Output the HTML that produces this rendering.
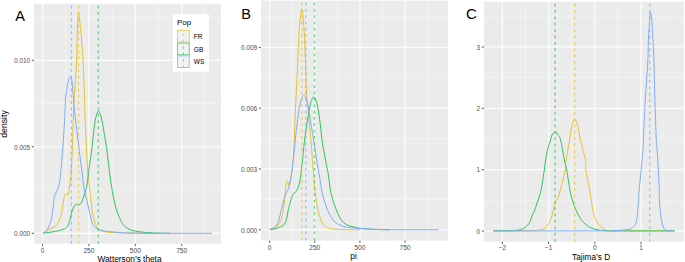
<!DOCTYPE html>
<html><head><meta charset="utf-8"><style>
html,body{margin:0;padding:0;background:#fff;overflow:hidden}
svg{display:block;font-family:"Liberation Sans",sans-serif}
</style></head><body>
<svg width="685" height="262" viewBox="0 0 685 262">
<rect width="685" height="262" fill="#fff"/>
<rect x="34.00" y="3.70" width="187.00" height="240.10" fill="#EBEBEB"/>
<line x1="65.78" y1="3.70" x2="65.78" y2="243.80" stroke="#fff" stroke-width="0.5" stroke-opacity="0.8"/>
<line x1="112.15" y1="3.70" x2="112.15" y2="243.80" stroke="#fff" stroke-width="0.5" stroke-opacity="0.8"/>
<line x1="158.52" y1="3.70" x2="158.52" y2="243.80" stroke="#fff" stroke-width="0.5" stroke-opacity="0.8"/>
<line x1="204.89" y1="3.70" x2="204.89" y2="243.80" stroke="#fff" stroke-width="0.5" stroke-opacity="0.8"/>
<line x1="34.00" y1="190.05" x2="221.00" y2="190.05" stroke="#fff" stroke-width="0.5" stroke-opacity="0.8"/>
<line x1="34.00" y1="103.55" x2="221.00" y2="103.55" stroke="#fff" stroke-width="0.5" stroke-opacity="0.8"/>
<line x1="34.00" y1="17.05" x2="221.00" y2="17.05" stroke="#fff" stroke-width="0.5" stroke-opacity="0.8"/>
<line x1="42.60" y1="3.70" x2="42.60" y2="243.80" stroke="#fff" stroke-width="1.25" stroke-opacity="0.85"/>
<line x1="88.97" y1="3.70" x2="88.97" y2="243.80" stroke="#fff" stroke-width="1.25" stroke-opacity="0.85"/>
<line x1="135.34" y1="3.70" x2="135.34" y2="243.80" stroke="#fff" stroke-width="1.25" stroke-opacity="0.85"/>
<line x1="181.70" y1="3.70" x2="181.70" y2="243.80" stroke="#fff" stroke-width="1.25" stroke-opacity="0.85"/>
<line x1="34.00" y1="233.30" x2="221.00" y2="233.30" stroke="#fff" stroke-width="1.25" stroke-opacity="0.85"/>
<line x1="34.00" y1="146.80" x2="221.00" y2="146.80" stroke="#fff" stroke-width="1.25" stroke-opacity="0.85"/>
<line x1="34.00" y1="60.30" x2="221.00" y2="60.30" stroke="#fff" stroke-width="1.25" stroke-opacity="0.85"/>
<path d="M43.00,233.20 C43.50,232.88 44.92,231.95 46.00,231.30 C47.08,230.65 48.03,230.07 49.50,229.30 C50.97,228.53 53.47,227.58 54.80,226.70 C56.13,225.82 56.75,225.12 57.50,224.00 C58.25,222.88 58.68,221.58 59.30,220.00 C59.92,218.42 60.60,216.83 61.20,214.50 C61.80,212.17 62.47,208.62 62.90,206.00 C63.33,203.38 63.40,200.73 63.80,198.80 C64.20,196.87 64.77,195.23 65.30,194.40 C65.83,193.57 66.50,193.73 67.00,193.80 C67.50,193.87 67.98,195.27 68.30,194.80 C68.62,194.33 68.68,192.47 68.90,191.00 C69.12,189.53 69.32,187.83 69.60,186.00 C69.88,184.17 70.27,183.65 70.60,180.00 C70.93,176.35 71.32,169.10 71.60,164.10 C71.88,159.10 72.07,156.52 72.30,150.00 C72.53,143.48 72.77,131.67 73.00,125.00 C73.23,118.33 73.43,115.83 73.70,110.00 C73.97,104.17 74.23,96.00 74.60,90.00 C74.97,84.00 75.57,79.00 75.90,74.00 C76.23,69.00 76.38,65.90 76.60,60.00 C76.82,54.10 77.02,45.02 77.20,38.60 C77.38,32.18 77.48,25.88 77.70,21.50 C77.92,17.12 78.27,13.27 78.50,12.30 C78.73,11.33 78.75,12.90 79.10,15.70 C79.45,18.50 80.13,24.32 80.60,29.10 C81.07,33.88 81.52,39.25 81.90,44.40 C82.28,49.55 82.57,54.07 82.90,60.00 C83.23,65.93 83.62,73.33 83.90,80.00 C84.18,86.67 84.42,94.00 84.60,100.00 C84.78,106.00 84.72,108.50 85.00,116.00 C85.28,123.50 85.93,137.00 86.30,145.00 C86.67,153.00 86.85,158.50 87.20,164.00 C87.55,169.50 88.03,174.33 88.40,178.00 C88.77,181.67 89.02,182.50 89.40,186.00 C89.78,189.50 90.27,195.10 90.70,199.00 C91.13,202.90 91.45,205.90 92.00,209.40 C92.55,212.90 93.33,217.32 94.00,220.00 C94.67,222.68 95.32,223.98 96.00,225.50 C96.68,227.02 97.10,228.18 98.10,229.10 C99.10,230.02 100.02,230.45 102.00,231.00 C103.98,231.55 106.17,232.07 110.00,232.40 C113.83,232.73 118.33,232.86 125.00,233.00 C131.67,233.14 145.83,233.21 150.00,233.25" fill="none" stroke="#E8C22F" stroke-width="1.00" stroke-opacity="1.00" stroke-linejoin="round"/>
<path d="M43.00,233.20 C44.45,233.00 48.97,232.45 51.70,232.00 C54.43,231.55 57.10,231.13 59.40,230.50 C61.70,229.87 64.02,229.15 65.50,228.20 C66.98,227.25 67.57,226.17 68.30,224.80 C69.03,223.43 69.32,222.13 69.90,220.00 C70.48,217.87 71.15,214.20 71.80,212.00 C72.45,209.80 73.03,208.10 73.80,206.80 C74.57,205.50 75.65,204.48 76.40,204.20 C77.15,203.92 77.65,205.10 78.30,205.10 C78.95,205.10 79.65,204.90 80.30,204.20 C80.95,203.50 81.55,202.42 82.20,200.90 C82.85,199.38 83.65,196.83 84.20,195.10 C84.75,193.37 85.07,192.02 85.50,190.50 C85.93,188.98 86.20,189.77 86.80,186.00 C87.40,182.23 88.28,173.90 89.10,167.90 C89.92,161.90 91.07,154.65 91.70,150.00 C92.33,145.35 92.58,142.93 92.90,140.00 C93.22,137.07 93.17,135.88 93.60,132.40 C94.03,128.92 94.70,122.65 95.50,119.10 C96.30,115.55 97.45,111.42 98.40,111.10 C99.35,110.78 100.25,113.65 101.20,117.20 C102.15,120.75 103.37,128.27 104.10,132.40 C104.83,136.53 105.13,139.07 105.60,142.00 C106.07,144.93 106.38,146.07 106.90,150.00 C107.42,153.93 107.93,159.57 108.70,165.60 C109.47,171.63 110.35,179.32 111.50,186.20 C112.65,193.08 114.05,201.17 115.60,206.90 C117.15,212.63 119.27,217.37 120.80,220.60 C122.33,223.83 123.27,224.80 124.80,226.30 C126.33,227.80 127.97,228.75 130.00,229.60 C132.03,230.45 134.12,230.90 137.00,231.40 C139.88,231.90 143.80,232.32 147.30,232.60 C150.80,232.88 154.22,232.98 158.00,233.10 C161.78,233.22 168.00,233.27 170.00,233.30" fill="none" stroke="#2FC45C" stroke-width="1.00" stroke-opacity="1.00" stroke-linejoin="round"/>
<path d="M43.00,233.20 C43.33,232.97 44.30,232.37 45.00,231.80 C45.70,231.23 46.33,231.28 47.20,229.80 C48.07,228.32 49.48,224.70 50.20,222.90 C50.92,221.10 51.12,220.82 51.50,219.00 C51.88,217.18 52.18,214.17 52.50,212.00 C52.82,209.83 53.20,207.70 53.40,206.00 C53.60,204.30 53.58,203.15 53.70,201.80 C53.82,200.45 53.90,199.05 54.10,197.90 C54.30,196.75 54.43,196.07 54.90,194.90 C55.37,193.73 56.32,192.23 56.90,190.90 C57.48,189.57 57.90,188.72 58.40,186.90 C58.90,185.08 59.38,183.80 59.90,180.00 C60.42,176.20 60.98,169.93 61.50,164.10 C62.02,158.27 62.53,151.52 63.00,145.00 C63.47,138.48 63.88,132.50 64.30,125.00 C64.72,117.50 65.10,105.93 65.50,100.00 C65.90,94.07 66.18,92.77 66.70,89.40 C67.22,86.03 67.97,81.97 68.60,79.80 C69.23,77.63 69.93,76.08 70.50,76.40 C71.07,76.72 71.58,78.90 72.00,81.70 C72.42,84.50 72.60,88.48 73.00,93.20 C73.40,97.92 73.88,104.70 74.40,110.00 C74.92,115.30 75.40,119.17 76.10,125.00 C76.80,130.83 77.95,139.75 78.60,145.00 C79.25,150.25 79.52,152.68 80.00,156.50 C80.48,160.32 81.03,164.32 81.50,167.90 C81.97,171.48 82.45,174.98 82.80,178.00 C83.15,181.02 83.15,183.15 83.60,186.00 C84.05,188.85 84.87,192.28 85.50,195.10 C86.13,197.92 86.75,200.18 87.40,202.90 C88.05,205.62 88.75,208.55 89.40,211.40 C90.05,214.25 90.63,217.63 91.30,220.00 C91.97,222.37 92.27,224.08 93.40,225.60 C94.53,227.12 96.20,228.20 98.10,229.10 C100.00,230.00 101.45,230.45 104.80,231.00 C108.15,231.55 114.00,232.07 118.20,232.40 C122.40,232.73 124.70,232.86 130.00,233.00 C135.30,233.14 143.33,233.20 150.00,233.25 C156.67,233.30 163.33,233.29 170.00,233.30 C176.67,233.31 183.03,233.30 190.00,233.30 C196.97,233.30 208.17,233.30 211.80,233.30" fill="none" stroke="#7DACFB" stroke-width="1.00" stroke-opacity="1.00" stroke-linejoin="round"/>
<line x1="71.40" y1="243.80" x2="71.40" y2="3.70" stroke="#7DACFB" stroke-width="1.35" stroke-opacity="0.70" stroke-dasharray="2.75 3.61"/>
<line x1="78.50" y1="243.80" x2="78.50" y2="3.70" stroke="#E8C22F" stroke-width="1.35" stroke-opacity="0.70" stroke-dasharray="2.75 3.61"/>
<line x1="98.30" y1="243.80" x2="98.30" y2="3.70" stroke="#2FC45C" stroke-width="1.35" stroke-opacity="0.70" stroke-dasharray="2.75 3.61"/>
<rect x="172.8" y="14.0" width="36.1" height="57.7" fill="#fff"/>
<text x="177.0" y="24.5" font-size="8.0" fill="#000">Pop</text>
<rect x="177.0" y="29.80" width="12.75" height="12.75" fill="#F2F2F2"/>
<rect x="177.5" y="30.30" width="11.75" height="11.75" fill="none" stroke="#E8C22F" stroke-width="0.9" stroke-opacity="0.8"/>
<line x1="183.37" y1="42.55" x2="183.37" y2="29.80" stroke="#E8C22F" stroke-width="1.1" stroke-opacity="0.65" stroke-dasharray="2.75 3.61"/>
<text x="193.8" y="36.40" font-size="6.6" fill="#000" dominant-baseline="central">FR</text>
<rect x="177.0" y="42.55" width="12.75" height="12.75" fill="#F2F2F2"/>
<rect x="177.5" y="43.05" width="11.75" height="11.75" fill="none" stroke="#2FC45C" stroke-width="0.9" stroke-opacity="0.8"/>
<line x1="183.37" y1="55.30" x2="183.37" y2="42.55" stroke="#2FC45C" stroke-width="1.1" stroke-opacity="0.65" stroke-dasharray="2.75 3.61"/>
<text x="193.8" y="49.15" font-size="6.6" fill="#000" dominant-baseline="central">GB</text>
<rect x="177.0" y="55.30" width="12.75" height="12.75" fill="#F2F2F2"/>
<rect x="177.5" y="55.80" width="11.75" height="11.75" fill="none" stroke="#7DACFB" stroke-width="0.9" stroke-opacity="0.8"/>
<line x1="183.37" y1="68.05" x2="183.37" y2="55.30" stroke="#7DACFB" stroke-width="1.1" stroke-opacity="0.65" stroke-dasharray="2.75 3.61"/>
<text x="193.8" y="61.90" font-size="6.6" fill="#000" dominant-baseline="central">WS</text>
<line x1="31.80" y1="233.30" x2="34.00" y2="233.30" stroke="#333333" stroke-width="0.8"/>
<text x="30.10" y="233.60" font-size="6.40" fill="#4D4D4D" text-anchor="end" dominant-baseline="central">0.000</text>
<line x1="31.80" y1="146.80" x2="34.00" y2="146.80" stroke="#333333" stroke-width="0.8"/>
<text x="30.10" y="147.10" font-size="6.40" fill="#4D4D4D" text-anchor="end" dominant-baseline="central">0.005</text>
<line x1="31.80" y1="60.30" x2="34.00" y2="60.30" stroke="#333333" stroke-width="0.8"/>
<text x="30.10" y="60.60" font-size="6.40" fill="#4D4D4D" text-anchor="end" dominant-baseline="central">0.010</text>
<line x1="42.60" y1="243.80" x2="42.60" y2="246.00" stroke="#333333" stroke-width="0.8"/>
<text x="42.60" y="252.60" font-size="6.60" fill="#4D4D4D" text-anchor="middle">0</text>
<line x1="88.97" y1="243.80" x2="88.97" y2="246.00" stroke="#333333" stroke-width="0.8"/>
<text x="88.97" y="252.60" font-size="6.60" fill="#4D4D4D" text-anchor="middle">250</text>
<line x1="135.34" y1="243.80" x2="135.34" y2="246.00" stroke="#333333" stroke-width="0.8"/>
<text x="135.34" y="252.60" font-size="6.60" fill="#4D4D4D" text-anchor="middle">500</text>
<line x1="181.70" y1="243.80" x2="181.70" y2="246.00" stroke="#333333" stroke-width="0.8"/>
<text x="181.70" y="252.60" font-size="6.60" fill="#4D4D4D" text-anchor="middle">750</text>
<text x="129.5" y="262.1" font-size="8.3" fill="#000" text-anchor="middle">Watterson&#8217;s theta</text>
<text transform="translate(6.5,124) rotate(-90)" font-size="8.7" fill="#000" text-anchor="middle">density</text>
<text x="15.3" y="20.6" font-size="14.5" fill="#000">A</text>
<rect x="261.00" y="0.60" width="186.90" height="240.00" fill="#EBEBEB"/>
<line x1="292.18" y1="0.60" x2="292.18" y2="240.60" stroke="#fff" stroke-width="0.5" stroke-opacity="0.8"/>
<line x1="337.33" y1="0.60" x2="337.33" y2="240.60" stroke="#fff" stroke-width="0.5" stroke-opacity="0.8"/>
<line x1="382.48" y1="0.60" x2="382.48" y2="240.60" stroke="#fff" stroke-width="0.5" stroke-opacity="0.8"/>
<line x1="427.62" y1="0.60" x2="427.62" y2="240.60" stroke="#fff" stroke-width="0.5" stroke-opacity="0.8"/>
<line x1="261.00" y1="199.36" x2="447.90" y2="199.36" stroke="#fff" stroke-width="0.5" stroke-opacity="0.8"/>
<line x1="261.00" y1="138.58" x2="447.90" y2="138.58" stroke="#fff" stroke-width="0.5" stroke-opacity="0.8"/>
<line x1="261.00" y1="77.79" x2="447.90" y2="77.79" stroke="#fff" stroke-width="0.5" stroke-opacity="0.8"/>
<line x1="261.00" y1="17.01" x2="447.90" y2="17.01" stroke="#fff" stroke-width="0.5" stroke-opacity="0.8"/>
<line x1="269.60" y1="0.60" x2="269.60" y2="240.60" stroke="#fff" stroke-width="1.25" stroke-opacity="0.85"/>
<line x1="314.75" y1="0.60" x2="314.75" y2="240.60" stroke="#fff" stroke-width="1.25" stroke-opacity="0.85"/>
<line x1="359.90" y1="0.60" x2="359.90" y2="240.60" stroke="#fff" stroke-width="1.25" stroke-opacity="0.85"/>
<line x1="405.05" y1="0.60" x2="405.05" y2="240.60" stroke="#fff" stroke-width="1.25" stroke-opacity="0.85"/>
<line x1="261.00" y1="229.75" x2="447.90" y2="229.75" stroke="#fff" stroke-width="1.25" stroke-opacity="0.85"/>
<line x1="261.00" y1="168.97" x2="447.90" y2="168.97" stroke="#fff" stroke-width="1.25" stroke-opacity="0.85"/>
<line x1="261.00" y1="108.18" x2="447.90" y2="108.18" stroke="#fff" stroke-width="1.25" stroke-opacity="0.85"/>
<line x1="261.00" y1="47.40" x2="447.90" y2="47.40" stroke="#fff" stroke-width="1.25" stroke-opacity="0.85"/>
<path d="M269.80,229.50 C270.33,229.32 271.68,229.03 273.00,228.40 C274.32,227.77 276.35,227.15 277.70,225.70 C279.05,224.25 280.20,222.27 281.10,219.70 C282.00,217.13 282.55,213.15 283.10,210.30 C283.65,207.45 284.10,204.88 284.40,202.60 C284.70,200.32 284.73,198.60 284.90,196.60 C285.07,194.60 285.22,192.53 285.40,190.60 C285.58,188.67 285.72,186.62 286.00,185.00 C286.28,183.38 286.77,181.35 287.10,180.90 C287.43,180.45 287.75,181.60 288.00,182.30 C288.25,183.00 288.32,185.05 288.60,185.10 C288.88,185.15 289.35,183.77 289.70,182.60 C290.05,181.43 290.25,180.60 290.70,178.10 C291.15,175.60 291.97,171.02 292.40,167.60 C292.83,164.18 292.98,162.27 293.30,157.60 C293.62,152.93 294.02,145.93 294.30,139.60 C294.58,133.27 294.68,127.10 295.00,119.60 C295.32,112.10 295.62,107.10 296.20,94.60 C296.78,82.10 297.93,56.27 298.50,44.60 C299.07,32.93 299.03,30.52 299.60,24.60 C300.17,18.68 301.28,9.93 301.90,9.10 C302.52,8.27 302.82,13.68 303.30,19.60 C303.78,25.52 304.23,32.10 304.80,44.60 C305.37,57.10 306.08,82.93 306.70,94.60 C307.32,106.27 307.80,107.03 308.50,114.60 C309.20,122.17 310.18,131.60 310.90,140.00 C311.62,148.40 312.30,158.67 312.80,165.00 C313.30,171.33 313.53,173.82 313.90,178.00 C314.27,182.18 314.62,186.45 315.00,190.10 C315.38,193.75 315.72,196.55 316.20,199.90 C316.68,203.25 317.27,207.32 317.90,210.20 C318.53,213.08 319.12,214.82 320.00,217.20 C320.88,219.58 321.87,222.70 323.20,224.50 C324.53,226.30 325.87,227.20 328.00,228.00 C330.13,228.80 333.07,229.02 336.00,229.30 C338.93,229.58 341.60,229.62 345.60,229.70 C349.60,229.77 357.60,229.74 360.00,229.75" fill="none" stroke="#E8C22F" stroke-width="1.00" stroke-opacity="1.00" stroke-linejoin="round"/>
<path d="M269.80,229.50 C270.67,229.40 273.35,229.32 275.00,228.90 C276.65,228.48 278.25,227.65 279.70,227.00 C281.15,226.35 282.58,226.22 283.70,225.00 C284.82,223.78 285.63,222.27 286.40,219.70 C287.17,217.13 287.65,212.45 288.30,209.60 C288.95,206.75 289.78,204.48 290.30,202.60 C290.82,200.72 290.88,199.80 291.40,198.30 C291.92,196.80 292.73,194.60 293.40,193.60 C294.07,192.60 294.63,193.30 295.40,192.30 C296.17,191.30 297.20,189.75 298.00,187.60 C298.80,185.45 299.58,182.80 300.20,179.40 C300.82,176.00 301.30,170.50 301.70,167.20 C302.10,163.90 302.12,164.13 302.60,159.60 C303.08,155.07 303.83,146.27 304.60,140.00 C305.37,133.73 306.30,127.67 307.20,122.00 C308.10,116.33 309.23,109.75 310.00,106.00 C310.77,102.25 311.17,101.02 311.80,99.50 C312.43,97.98 313.07,96.73 313.80,96.90 C314.53,97.07 315.40,97.98 316.20,100.50 C317.00,103.02 317.88,107.75 318.60,112.00 C319.32,116.25 319.93,121.33 320.50,126.00 C321.07,130.67 321.32,135.17 322.00,140.00 C322.68,144.83 323.87,150.83 324.60,155.00 C325.33,159.17 325.77,161.68 326.40,165.00 C327.03,168.32 327.73,170.73 328.40,174.90 C329.07,179.07 329.67,185.88 330.40,190.00 C331.13,194.12 331.87,196.40 332.80,199.60 C333.73,202.80 334.80,206.13 336.00,209.20 C337.20,212.27 338.67,215.72 340.00,218.00 C341.33,220.28 342.53,221.63 344.00,222.90 C345.47,224.17 346.92,224.87 348.80,225.60 C350.68,226.33 353.15,226.82 355.30,227.30 C357.45,227.78 359.25,228.17 361.70,228.50 C364.15,228.83 366.95,229.12 370.00,229.30 C373.05,229.48 376.67,229.53 380.00,229.60 C383.33,229.67 388.33,229.72 390.00,229.75" fill="none" stroke="#2FC45C" stroke-width="1.00" stroke-opacity="1.00" stroke-linejoin="round"/>
<path d="M269.80,229.50 C270.78,228.98 274.17,228.03 275.70,226.40 C277.23,224.77 278.10,222.38 279.00,219.70 C279.90,217.02 280.38,213.15 281.10,210.30 C281.82,207.45 282.70,204.93 283.30,202.60 C283.90,200.27 284.13,198.02 284.70,196.30 C285.27,194.58 286.03,193.75 286.70,192.30 C287.37,190.85 288.03,189.72 288.70,187.60 C289.37,185.48 290.08,182.93 290.70,179.60 C291.32,176.27 291.97,170.93 292.40,167.60 C292.83,164.27 292.97,162.60 293.30,159.60 C293.63,156.60 293.98,153.77 294.40,149.60 C294.82,145.43 295.25,139.60 295.80,134.60 C296.35,129.60 297.10,124.10 297.70,119.60 C298.30,115.10 298.80,111.02 299.40,107.60 C300.00,104.18 300.58,101.15 301.30,99.10 C302.02,97.05 302.88,95.38 303.70,95.30 C304.52,95.22 305.38,96.38 306.20,98.60 C307.02,100.82 307.87,104.77 308.60,108.60 C309.33,112.43 309.97,117.60 310.60,121.60 C311.23,125.60 311.90,129.53 312.40,132.60 C312.90,135.67 313.13,137.10 313.60,140.00 C314.07,142.90 314.70,146.67 315.20,150.00 C315.70,153.33 316.17,157.17 316.60,160.00 C317.03,162.83 317.35,164.50 317.80,167.00 C318.25,169.50 318.67,171.17 319.30,175.00 C319.93,178.83 320.82,185.90 321.60,190.00 C322.38,194.10 323.07,196.40 324.00,199.60 C324.93,202.80 326.00,206.27 327.20,209.20 C328.40,212.13 329.73,214.92 331.20,217.20 C332.67,219.48 334.13,221.42 336.00,222.90 C337.87,224.38 340.00,225.30 342.40,226.10 C344.80,226.90 347.47,227.30 350.40,227.70 C353.33,228.10 356.73,228.27 360.00,228.50 C363.27,228.73 366.67,228.93 370.00,229.10 C373.33,229.27 376.67,229.39 380.00,229.50 C383.33,229.61 385.00,229.71 390.00,229.75 C395.00,229.79 401.85,229.75 410.00,229.75 C418.15,229.75 434.08,229.75 438.90,229.75" fill="none" stroke="#7DACFB" stroke-width="1.00" stroke-opacity="1.00" stroke-linejoin="round"/>
<line x1="301.90" y1="240.60" x2="301.90" y2="0.60" stroke="#E8C22F" stroke-width="1.35" stroke-opacity="0.70" stroke-dasharray="2.75 3.61"/>
<line x1="305.80" y1="240.60" x2="305.80" y2="0.60" stroke="#7DACFB" stroke-width="1.35" stroke-opacity="0.70" stroke-dasharray="2.75 3.61"/>
<line x1="314.50" y1="240.60" x2="314.50" y2="0.60" stroke="#2FC45C" stroke-width="1.35" stroke-opacity="0.70" stroke-dasharray="2.75 3.61"/>
<line x1="258.80" y1="229.75" x2="261.00" y2="229.75" stroke="#333333" stroke-width="0.8"/>
<text x="257.10" y="230.05" font-size="6.40" fill="#4D4D4D" text-anchor="end" dominant-baseline="central">0.000</text>
<line x1="258.80" y1="168.97" x2="261.00" y2="168.97" stroke="#333333" stroke-width="0.8"/>
<text x="257.10" y="169.27" font-size="6.40" fill="#4D4D4D" text-anchor="end" dominant-baseline="central">0.003</text>
<line x1="258.80" y1="108.18" x2="261.00" y2="108.18" stroke="#333333" stroke-width="0.8"/>
<text x="257.10" y="108.48" font-size="6.40" fill="#4D4D4D" text-anchor="end" dominant-baseline="central">0.006</text>
<line x1="258.80" y1="47.40" x2="261.00" y2="47.40" stroke="#333333" stroke-width="0.8"/>
<text x="257.10" y="47.70" font-size="6.40" fill="#4D4D4D" text-anchor="end" dominant-baseline="central">0.009</text>
<line x1="269.60" y1="240.60" x2="269.60" y2="242.80" stroke="#333333" stroke-width="0.8"/>
<text x="269.60" y="249.80" font-size="6.60" fill="#4D4D4D" text-anchor="middle">0</text>
<line x1="314.75" y1="240.60" x2="314.75" y2="242.80" stroke="#333333" stroke-width="0.8"/>
<text x="314.75" y="249.80" font-size="6.60" fill="#4D4D4D" text-anchor="middle">250</text>
<line x1="359.90" y1="240.60" x2="359.90" y2="242.80" stroke="#333333" stroke-width="0.8"/>
<text x="359.90" y="249.80" font-size="6.60" fill="#4D4D4D" text-anchor="middle">500</text>
<line x1="405.05" y1="240.60" x2="405.05" y2="242.80" stroke="#333333" stroke-width="0.8"/>
<text x="405.05" y="249.80" font-size="6.60" fill="#4D4D4D" text-anchor="middle">750</text>
<text x="353.6" y="259.1" font-size="8.3" fill="#000" text-anchor="middle">pi</text>
<text x="241.2" y="18.6" font-size="14.5" fill="#000">B</text>
<rect x="484.00" y="1.70" width="199.90" height="240.10" fill="#EBEBEB"/>
<line x1="525.50" y1="1.70" x2="525.50" y2="241.80" stroke="#fff" stroke-width="0.5" stroke-opacity="0.8"/>
<line x1="571.70" y1="1.70" x2="571.70" y2="241.80" stroke="#fff" stroke-width="0.5" stroke-opacity="0.8"/>
<line x1="617.90" y1="1.70" x2="617.90" y2="241.80" stroke="#fff" stroke-width="0.5" stroke-opacity="0.8"/>
<line x1="664.10" y1="1.70" x2="664.10" y2="241.80" stroke="#fff" stroke-width="0.5" stroke-opacity="0.8"/>
<line x1="484.00" y1="200.32" x2="683.90" y2="200.32" stroke="#fff" stroke-width="0.5" stroke-opacity="0.8"/>
<line x1="484.00" y1="138.97" x2="683.90" y2="138.97" stroke="#fff" stroke-width="0.5" stroke-opacity="0.8"/>
<line x1="484.00" y1="77.62" x2="683.90" y2="77.62" stroke="#fff" stroke-width="0.5" stroke-opacity="0.8"/>
<line x1="484.00" y1="16.28" x2="683.90" y2="16.28" stroke="#fff" stroke-width="0.5" stroke-opacity="0.8"/>
<line x1="502.40" y1="1.70" x2="502.40" y2="241.80" stroke="#fff" stroke-width="1.25" stroke-opacity="0.85"/>
<line x1="548.60" y1="1.70" x2="548.60" y2="241.80" stroke="#fff" stroke-width="1.25" stroke-opacity="0.85"/>
<line x1="594.80" y1="1.70" x2="594.80" y2="241.80" stroke="#fff" stroke-width="1.25" stroke-opacity="0.85"/>
<line x1="641.00" y1="1.70" x2="641.00" y2="241.80" stroke="#fff" stroke-width="1.25" stroke-opacity="0.85"/>
<line x1="484.00" y1="231.00" x2="683.90" y2="231.00" stroke="#fff" stroke-width="1.25" stroke-opacity="0.85"/>
<line x1="484.00" y1="169.65" x2="683.90" y2="169.65" stroke="#fff" stroke-width="1.25" stroke-opacity="0.85"/>
<line x1="484.00" y1="108.30" x2="683.90" y2="108.30" stroke="#fff" stroke-width="1.25" stroke-opacity="0.85"/>
<line x1="484.00" y1="46.95" x2="683.90" y2="46.95" stroke="#fff" stroke-width="1.25" stroke-opacity="0.85"/>
<path d="M493.20,230.90 C499.33,230.90 522.22,231.03 530.00,230.90 C537.78,230.77 537.22,230.73 539.90,230.10 C542.58,229.47 544.23,229.05 546.10,227.10 C547.97,225.15 549.65,222.33 551.10,218.40 C552.55,214.47 553.98,206.52 554.80,203.50 C555.62,200.48 555.50,201.12 556.00,200.30 C556.50,199.48 556.97,200.75 557.80,198.60 C558.63,196.45 559.77,192.17 561.00,187.40 C562.23,182.63 564.40,174.23 565.20,170.00 C566.00,165.77 565.07,167.00 565.80,162.00 C566.53,157.00 568.57,146.17 569.60,140.00 C570.63,133.83 571.15,128.45 572.00,125.00 C572.85,121.55 573.78,119.30 574.70,119.30 C575.62,119.30 576.53,121.55 577.50,125.00 C578.47,128.45 579.12,133.83 580.50,140.00 C581.88,146.17 584.92,157.00 585.80,162.00 C586.68,167.00 585.17,165.35 585.80,170.00 C586.43,174.65 588.35,182.87 589.60,189.90 C590.85,196.93 592.07,206.82 593.30,212.20 C594.53,217.58 595.88,219.92 597.00,222.20 C598.12,224.48 598.93,224.88 600.00,225.90 C601.07,226.92 602.12,227.52 603.40,228.30 C604.68,229.08 604.93,230.17 607.70,230.60 C610.47,231.03 608.83,230.85 620.00,230.90 C631.17,230.95 665.58,230.90 674.70,230.90" fill="none" stroke="#E8C22F" stroke-width="1.00" stroke-opacity="1.00" stroke-linejoin="round"/>
<path d="M493.20,230.90 C496.45,230.85 508.23,230.82 512.70,230.60 C517.17,230.38 517.95,230.10 520.00,229.60 C522.05,229.10 523.35,228.83 525.00,227.60 C526.65,226.37 528.73,224.13 529.90,222.20 C531.07,220.27 531.17,218.07 532.00,216.00 C532.83,213.93 534.07,211.97 534.90,209.80 C535.73,207.63 536.17,205.50 537.00,203.00 C537.83,200.50 539.07,197.80 539.90,194.80 C540.73,191.80 541.27,189.13 542.00,185.00 C542.73,180.87 543.75,173.83 544.30,170.00 C544.85,166.17 544.77,165.33 545.30,162.00 C545.83,158.67 546.63,153.67 547.50,150.00 C548.37,146.33 549.75,142.50 550.50,140.00 C551.25,137.50 551.20,136.38 552.00,135.00 C552.80,133.62 554.30,131.70 555.30,131.70 C556.30,131.70 557.12,133.62 558.00,135.00 C558.88,136.38 559.47,135.50 560.60,140.00 C561.73,144.50 563.78,157.00 564.80,162.00 C565.82,167.00 565.68,164.53 566.70,170.00 C567.72,175.47 569.37,188.17 570.90,194.80 C572.43,201.43 574.03,205.45 575.90,209.80 C577.77,214.15 579.82,218.02 582.10,220.90 C584.38,223.78 587.12,225.65 589.60,227.10 C592.08,228.55 594.43,229.00 597.00,229.60 C599.57,230.20 601.17,230.48 605.00,230.70 C608.83,230.92 608.38,230.87 620.00,230.90 C631.62,230.93 665.58,230.90 674.70,230.90" fill="none" stroke="#2FC45C" stroke-width="1.00" stroke-opacity="1.00" stroke-linejoin="round"/>
<path d="M493.20,230.90 C511.83,230.90 584.87,230.92 605.00,230.90 C625.13,230.88 611.50,230.88 614.00,230.80 C616.50,230.72 618.17,230.55 620.00,230.40 C621.83,230.25 623.33,230.13 625.00,229.90 C626.67,229.67 628.45,229.68 630.00,229.00 C631.55,228.32 633.15,227.48 634.30,225.80 C635.45,224.12 636.20,223.20 636.90,218.90 C637.60,214.60 638.12,204.82 638.50,200.00 C638.88,195.18 638.45,198.33 639.20,190.00 C639.95,181.67 642.30,158.33 643.00,150.00 C643.70,141.67 643.02,148.33 643.40,140.00 C643.78,131.67 644.55,113.33 645.30,100.00 C646.05,86.67 647.38,70.00 647.90,60.00 C648.42,50.00 648.12,46.58 648.40,40.00 C648.68,33.42 649.27,25.12 649.60,20.50 C649.93,15.88 650.03,12.30 650.40,12.30 C650.77,12.30 651.37,15.88 651.80,20.50 C652.23,25.12 652.65,33.42 653.00,40.00 C653.35,46.58 653.58,50.00 653.90,60.00 C654.22,70.00 654.50,86.67 654.90,100.00 C655.30,113.33 655.92,131.67 656.30,140.00 C656.68,148.33 656.70,141.67 657.20,150.00 C657.70,158.33 658.93,181.67 659.30,190.00 C659.67,198.33 659.12,195.47 659.40,200.00 C659.68,204.53 660.35,212.70 661.00,217.20 C661.65,221.70 662.63,224.95 663.30,227.00 C663.97,229.05 664.42,228.88 665.00,229.50 C665.58,230.12 666.13,230.47 666.80,230.70 C667.47,230.93 667.68,230.87 669.00,230.90 C670.32,230.93 673.75,230.90 674.70,230.90" fill="none" stroke="#7DACFB" stroke-width="1.00" stroke-opacity="1.00" stroke-linejoin="round"/>
<line x1="555.10" y1="241.80" x2="555.10" y2="1.70" stroke="#2FC45C" stroke-width="1.35" stroke-opacity="0.70" stroke-dasharray="2.75 3.61"/>
<line x1="574.70" y1="241.80" x2="574.70" y2="1.70" stroke="#E8C22F" stroke-width="1.35" stroke-opacity="0.70" stroke-dasharray="2.75 3.61"/>
<line x1="649.70" y1="241.80" x2="649.70" y2="1.70" stroke="#7DACFB" stroke-width="1.35" stroke-opacity="0.70" stroke-dasharray="2.75 3.61"/>
<line x1="481.80" y1="231.00" x2="484.00" y2="231.00" stroke="#333333" stroke-width="0.8"/>
<text x="480.10" y="231.30" font-size="6.40" fill="#4D4D4D" text-anchor="end" dominant-baseline="central">0</text>
<line x1="481.80" y1="169.65" x2="484.00" y2="169.65" stroke="#333333" stroke-width="0.8"/>
<text x="480.10" y="169.95" font-size="6.40" fill="#4D4D4D" text-anchor="end" dominant-baseline="central">1</text>
<line x1="481.80" y1="108.30" x2="484.00" y2="108.30" stroke="#333333" stroke-width="0.8"/>
<text x="480.10" y="108.60" font-size="6.40" fill="#4D4D4D" text-anchor="end" dominant-baseline="central">2</text>
<line x1="481.80" y1="46.95" x2="484.00" y2="46.95" stroke="#333333" stroke-width="0.8"/>
<text x="480.10" y="47.25" font-size="6.40" fill="#4D4D4D" text-anchor="end" dominant-baseline="central">3</text>
<line x1="502.40" y1="241.80" x2="502.40" y2="244.00" stroke="#333333" stroke-width="0.8"/>
<text x="502.40" y="250.20" font-size="6.60" fill="#4D4D4D" text-anchor="middle">&#8722;2</text>
<line x1="548.60" y1="241.80" x2="548.60" y2="244.00" stroke="#333333" stroke-width="0.8"/>
<text x="548.60" y="250.20" font-size="6.60" fill="#4D4D4D" text-anchor="middle">&#8722;1</text>
<line x1="594.80" y1="241.80" x2="594.80" y2="244.00" stroke="#333333" stroke-width="0.8"/>
<text x="594.80" y="250.20" font-size="6.60" fill="#4D4D4D" text-anchor="middle">0</text>
<line x1="641.00" y1="241.80" x2="641.00" y2="244.00" stroke="#333333" stroke-width="0.8"/>
<text x="641.00" y="250.20" font-size="6.60" fill="#4D4D4D" text-anchor="middle">1</text>
<text x="591.1" y="260.0" font-size="8.3" fill="#000" text-anchor="middle">Tajima&#8217;s D</text>
<text x="465.9" y="19.3" font-size="15" fill="#000">C</text>
</svg></body></html>
